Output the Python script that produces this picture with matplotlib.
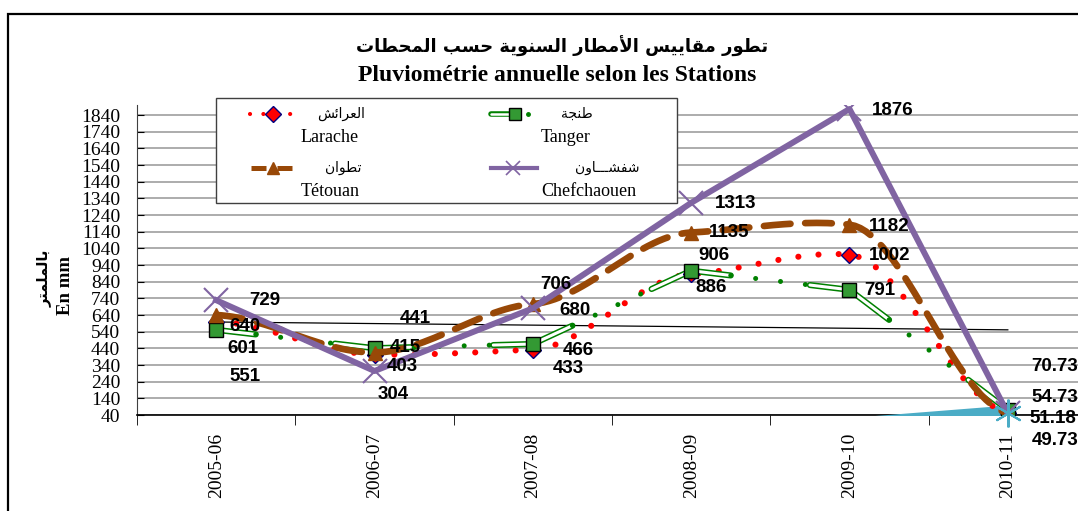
import numpy as np
import matplotlib
matplotlib.use("Agg")
import matplotlib.pyplot as plt
from matplotlib.lines import Line2D
from matplotlib.patches import Rectangle

# --- Data
years = ["2005-06", "2006-07", "2007-08", "2008-09", "2009-10", "2010-11"]
larache = [601, 403, 433, 886, 1002, 54.73]
tanger = [551, 441, 466, 906, 791, 70.73]
tetouan = [640, 415, 706, 1135, 1182, 51.18]
chefchaouen = [729, 304, 680, 1313, 1876, 49.73]
extra = [np.nan, np.nan, np.nan, np.nan, 25, 100]   # cyan series, mostly below the axis
trend = [598, 551]                                   # thin black trend line (first / last year)
yticks = list(range(40, 1841, 100))

W, H = 1078, 511

# --- Arabic shaping (matplotlib has no bidi / joining support)
FORMS = {
    'ا': ('\uFE8D', '\uFE8E', None, None),
    'أ': ('\uFE83', '\uFE84', None, None),
    'ب': ('\uFE8F', '\uFE90', '\uFE91', '\uFE92'),
    'ة': ('\uFE93', '\uFE94', None, None),
    'ت': ('\uFE95', '\uFE96', '\uFE97', '\uFE98'),
    'ج': ('\uFE9D', '\uFE9E', '\uFE9F', '\uFEA0'),
    'ح': ('\uFEA1', '\uFEA2', '\uFEA3', '\uFEA4'),
    'ر': ('\uFEAD', '\uFEAE', None, None),
    'س': ('\uFEB1', '\uFEB2', '\uFEB3', '\uFEB4'),
    'ش': ('\uFEB5', '\uFEB6', '\uFEB7', '\uFEB8'),
    'ط': ('\uFEC1', '\uFEC2', '\uFEC3', '\uFEC4'),
    'ع': ('\uFEC9', '\uFECA', '\uFECB', '\uFECC'),
    'ف': ('\uFED1', '\uFED2', '\uFED3', '\uFED4'),
    'ق': ('\uFED5', '\uFED6', '\uFED7', '\uFED8'),
    'ل': ('\uFEDD', '\uFEDE', '\uFEDF', '\uFEE0'),
    'م': ('\uFEE1', '\uFEE2', '\uFEE3', '\uFEE4'),
    'ن': ('\uFEE5', '\uFEE6', '\uFEE7', '\uFEE8'),
    'و': ('\uFEED', '\uFEEE', None, None),
    'ي': ('\uFEF1', '\uFEF2', '\uFEF3', '\uFEF4'),
    'ئ': ('\uFE89', '\uFE8A', '\uFE8B', '\uFE8C'),
    'ـ': ('\u0640', '\u0640', '\u0640', '\u0640'),
}
LAM_ALEF = {'ا': ('\uFEFB', '\uFEFC'), 'أ': ('\uFEF7', '\uFEF8')}


def shape(text):
    units = []
    i = 0
    while i < len(text):
        if text[i] == 'ل' and i + 1 < len(text) and text[i + 1] in LAM_ALEF:
            units.append(('LA', text[i + 1]))
            i += 2
        else:
            units.append(text[i])
            i += 1

    def is_arabic(u):
        return isinstance(u, tuple) or u in FORMS

    def joins_left(u):
        return (not isinstance(u, tuple)) and u in FORMS and FORMS[u][2] is not None

    out = []
    for k, u in enumerate(units):
        prev = units[k - 1] if k > 0 else None
        nxt = units[k + 1] if k + 1 < len(units) else None
        jp = prev is not None and joins_left(prev) and is_arabic(u)
        if isinstance(u, tuple):
            iso, fin = LAM_ALEF[u[1]]
            out.append(fin if jp else iso)
            continue
        if u not in FORMS:
            out.append(u)
            continue
        f = FORMS[u]
        jn = f[2] is not None and nxt is not None and is_arabic(nxt)
        if jp and jn:
            out.append(f[3])
        elif jp:
            out.append(f[1])
        elif jn:
            out.append(f[2])
        else:
            out.append(f[0])
    return ''.join(reversed(out))


def smooth(xs, ys, k=0.2, n=30):
    """Hermite curve through the points with damped tangents (Excel-like smoothed line)."""
    xs = np.asarray(xs, float)
    ys = np.asarray(ys, float)
    m = np.zeros_like(ys)
    m[1:-1] = k * (ys[2:] - ys[:-2]) / 2
    m[0] = k * (ys[1] - ys[0])
    m[-1] = k * (ys[-1] - ys[-2])
    t = np.linspace(0, 1, n)
    h00 = 2 * t ** 3 - 3 * t ** 2 + 1
    h10 = t ** 3 - 2 * t ** 2 + t
    h01 = -2 * t ** 3 + 3 * t ** 2
    h11 = t ** 3 - t ** 2
    ox, oy = [], []
    for i in range(len(xs) - 1):
        ox.append(xs[i] + t * (xs[i + 1] - xs[i]))
        oy.append(h00 * ys[i] + h10 * m[i] + h01 * ys[i + 1] + h11 * m[i + 1])
    return np.concatenate(ox), np.concatenate(oy)


def fxy(px, py):
    return px / W, 1 - py / H


# --- Figure
fig = plt.figure(figsize=(W / 100, H / 100), dpi=100)
fig.patch.set_facecolor('white')

# outer chart border (runs off the right / bottom edges like the reference crop)
fig.patches.append(Rectangle(fxy(8, 600), 2, (600 - 14) / H, transform=fig.transFigure,
                             fill=False, edgecolor='black', linewidth=1.6, zorder=0))

ax = fig.add_axes([137 / W, (H - 415) / H, (1087 - 137) / W, 310 / H])
x = np.arange(len(years))
ax.set_xlim(-0.5, len(years) - 0.5)
ax.set_ylim(40, 1900)

ax.set_yticks(yticks)
ax.set_yticklabels([str(v) for v in yticks], family='Liberation Serif', fontsize=14)
ax.yaxis.grid(True, color='#a6a6a6', linewidth=1.3)
ax.set_axisbelow(True)
ax.tick_params(axis='y', direction='in', length=5, pad=12, colors='black')

ax.set_xticks(x)
ax.set_xticklabels(years, rotation=90, family='Liberation Serif', fontsize=14)
ax.set_xticks(np.arange(-0.5, len(years), 1), minor=True)
ax.tick_params(axis='x', which='major', length=0, pad=13)
ax.tick_params(axis='x', which='minor', length=7, direction='out')
for s in ['top', 'right']:
    ax.spines[s].set_visible(False)
ax.spines['left'].set_color('#404040')
ax.spines['bottom'].set_color('black')
ax.spines['bottom'].set_linewidth(1.2)

# cyan series: area clipped by the axis floor, plus its star marker
ax.fill_between(x, extra, 0, color='#4bacc6', zorder=3, linewidth=0)
ax.plot(x[-1], extra[-1] - 50, marker=(6, 2, 0), markersize=20, color='#4bacc6',
        markeredgewidth=1.5, zorder=9, clip_on=False)

# trend line
ax.plot([x[0], x[-1]], trend, color='black', linewidth=0.9, zorder=4)

# Larache: smoothed red dotted line, diamond markers
sx, sy = smooth(x, larache)
ax.plot(sx, sy, color='#ff0000', linewidth=4.4, linestyle=(0, (0.01, 3.3)),
        dash_capstyle='round', zorder=5)
ax.plot(x, larache, linestyle='none', marker='D', markersize=8.5, markerfacecolor='#ff0000',
        markeredgecolor='#000080', markeredgewidth=1, zorder=6)

# Tanger: double line near the markers, green dots between them
green = '#008000'
for i in range(len(x) - 1):
    x0, x1 = x[i], x[i + 1]
    y0, y1 = tanger[i], tanger[i + 1]
    for a, b in [(0, 0.25), (0.75, 1)]:
        xs = [x0 + a * (x1 - x0), x0 + b * (x1 - x0)]
        ys = [y0 + a * (y1 - y0), y0 + b * (y1 - y0)]
        ax.plot(xs, ys, color=green, linewidth=4.4, solid_capstyle='round', zorder=5)
        ax.plot(xs, ys, color='white', linewidth=2.2, solid_capstyle='round', zorder=5)
    xs = [x0 + 0.25 * (x1 - x0), x0 + 0.75 * (x1 - x0)]
    ys = [y0 + 0.25 * (y1 - y0), y0 + 0.75 * (y1 - y0)]
    ax.plot(xs, ys, color=green, linewidth=3.6, linestyle=(0, (0.01, 5.0)),
            dash_capstyle='round', zorder=5)
ax.plot(x, tanger, linestyle='none', marker='s', markersize=9.5, markerfacecolor='#339933',
        markeredgecolor='black', markeredgewidth=1, zorder=6)

# Tétouan: smoothed brown dashed line, triangle markers
brown = '#984807'
sx, sy = smooth(x, tetouan)
ax.plot(sx, sy, color=brown, linewidth=4.8, linestyle=(0, (4, 2.2)),
        dash_capstyle='round', zorder=7)
ax.plot(x, tetouan, linestyle='none', marker='^', markersize=10, color=brown, zorder=7)

# Chefchaouen: straight purple line, x markers
purple = '#8064a2'
ax.plot(x, chefchaouen, color=purple, linewidth=4.3, marker='x', markersize=17,
        markeredgewidth=1.5, zorder=8)

# --- Data labels (offsets in pixels, right / down)
off_larache = [(27, 27), (28, 12), (35, 19), (20, 13), (40, 1), (47, -15)]
off_tanger = [(29, 47), (41, -30), (45, 6), (23, -15), (30, 1), (47, -43)]
off_tetouan = [(29, 11), (31, -5), (23, -20), (38, 0), (40, 2), (45, 5)]
off_chef = [(49, 0), (19, 23), (42, 2), (44, 1), (43, 1), (47, 27)]
for vals, offs in [(larache, off_larache), (tanger, off_tanger),
                   (tetouan, off_tetouan), (chefchaouen, off_chef)]:
    for xi, v, (dx, dy) in zip(x, vals, offs):
        ax.annotate(f"{v:g}", (xi, v), xytext=(dx, -dy), textcoords='offset pixels',
                    ha='center', va='center', fontsize=13.5, fontweight='bold',
                    family='Liberation Sans', zorder=10, annotation_clip=False)

# --- Titles and axis label
fig.text(*fxy(562, 46), shape("تطور مقاييس الأمطار السنوية حسب المحطات"), ha='center',
         va='center', fontsize=13, fontweight='bold', family='DejaVu Sans')
fig.text(*fxy(557, 75), "Pluviométrie annuelle selon les Stations", ha='center', va='center',
         fontsize=17, fontweight='bold', family='Liberation Serif')
fig.text(*fxy(65, 285), "En mm", rotation=90, ha='center', va='center', fontsize=13.5,
         fontweight='bold', family='Liberation Serif')
fig.text(*fxy(44, 278), shape("بالملمتر"), rotation=90, ha='center', va='center', fontsize=10.5,
         fontweight='bold', family='DejaVu Sans')

# --- Legend drawn by hand (two-line labels, Arabic above French)
fig.patches.append(Rectangle(fxy(216, 203), (677 - 216) / W, (203 - 98) / H,
                             transform=fig.transFigure, facecolor='white',
                             edgecolor='#404040', linewidth=1, zorder=20))
tf = fig.transFigure


def leg_line(px0, px1, py, **kw):
    (a, b), (c, d) = fxy(px0, py), fxy(px1, py)
    fig.lines.append(Line2D([a, c], [b, d], transform=tf, zorder=21, **kw))


def leg_mark(px, py, **kw):
    a, b = fxy(px, py)
    fig.lines.append(Line2D([a], [b], transform=tf, linestyle='none', zorder=22, **kw))


# Larache sample
leg_line(250, 297, 114, color='#ff0000', linewidth=3, linestyle=(0, (0.01, 3.2)),
         dash_capstyle='round')
leg_mark(273, 114, marker='D', markersize=8, markerfacecolor='#ff0000',
         markeredgecolor='#000080')
# Tanger sample
leg_line(491, 512, 114, color=green, linewidth=4, solid_capstyle='round')
leg_line(491, 512, 114, color='white', linewidth=1.8, solid_capstyle='round')
leg_mark(515, 114, marker='s', markersize=8, markerfacecolor='#339933', markeredgecolor='black')
leg_mark(528, 114, marker='o', markersize=2.5, color=green)
# Tétouan sample
leg_line(251, 297, 168, color=brown, linewidth=3.6, linestyle=(0, (3, 2.2)))
leg_mark(273, 168, marker='^', markersize=9, color=brown)
# Chefchaouen sample
leg_line(491, 537, 168, color=purple, linewidth=3)
leg_mark(513, 168, marker='x', markersize=10, markeredgewidth=1.2, color=purple)

leg_text = [("العرائش", "Larache", 301, 365, 114),
            ("طنجة", "Tanger", 541, 593, 114),
            ("تطوان", "Tétouan", 301, 362, 168),
            ("شفشـــاون", "Chefchaouen", 541, 640, 168)]
for ar, fr, left, right, py in leg_text:
    fig.text(*fxy(right, py), shape(ar), ha='right', va='center', fontsize=10,
             family='DejaVu Sans', zorder=23)
    fig.text(*fxy(left, py + 23), fr, ha='left', va='center', fontsize=13,
             family='Liberation Serif', zorder=23)

fig.savefig("out.png", dpi=100)
